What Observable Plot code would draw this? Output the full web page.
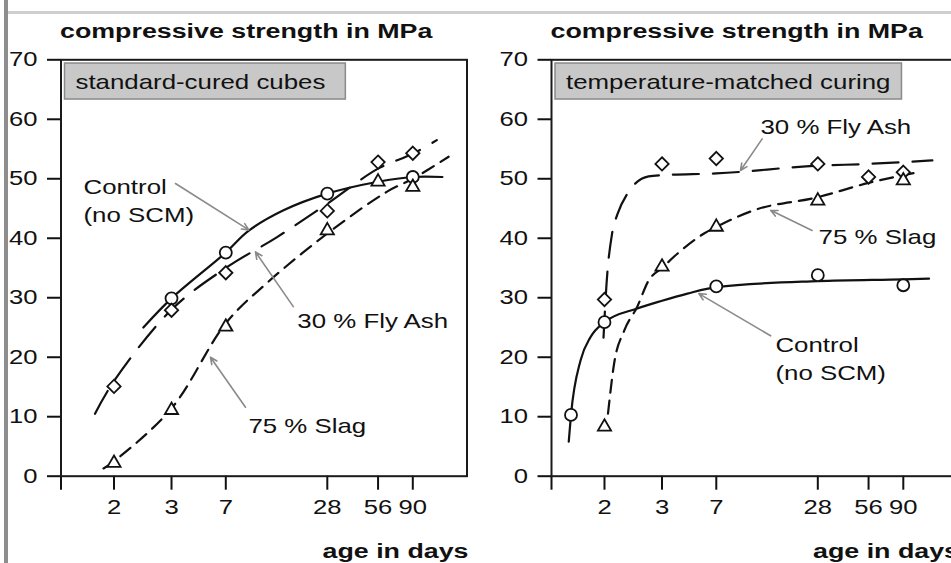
<!DOCTYPE html>
<html>
<head>
<meta charset="utf-8">
<script src="https://cdn.jsdelivr.net/npm/d3@7"></script>
<script src="https://cdn.jsdelivr.net/npm/@observablehq/plot@0.6"></script>
<style>
  html, body { margin: 0; padding: 0; background: #fff; width: 951px; height: 563px; overflow: hidden; }
  #wrap { position: relative; width: 951px; height: 563px; overflow: hidden; background: #fff; }
  .panel { position: absolute; top: 0; }
  #barLeft { position: absolute; left: 3.5px; top: 0; width: 4px; height: 563px; background: #8e8e8e; z-index: 5; }
  #barTop { position: absolute; left: 7.5px; top: 11px; right: 0; height: 3px; background: #cfcfcf; z-index: 5; }
  svg g[aria-label="x-axis tick"], svg g[aria-label="y-axis tick"] { stroke-width: 2px; }
  svg g[aria-label="x-axis"] line, svg g[aria-label="y-axis"] line { stroke-width: 2px; }
</style>
</head>
<body>
<div id="wrap">
  <div id="p1" class="panel" style="left:0px"></div>
  <div id="p2" class="panel" style="left:490px"></div>
  <div id="barLeft"></div>
  <div id="barTop"></div>
</div>
<script>
// ---------- axes / texts ----------
const tickAges = [2, 3, 7, 28, 56, 90];
const yTicks = [0, 10, 20, 30, 40, 50, 60, 70];
const yTitle = "compressive strength in MPa";
const xTitle = "age in days";
const panelLabels = ["standard-cured cubes", "temperature-matched curing"];
// the age axis of the original is hand-spaced: piecewise log breakpoints and their share of the frame width
const xBreaks = [0.67, 1, 2, 3, 7, 90, 189];
const xBreakFrac = [0, 0.048, 0.1305, 0.2722, 0.4059, 0.8665, 1];

// ---------- standard-cured cubes: measured points ----------
const stdControlAge = [3, 7, 28, 90];
const stdControlMPa = [29.9, 37.6, 47.5, 50.3];
const stdFlyAshAge = [2, 3, 7, 28, 56, 90];
const stdFlyAshMPa = [15.1, 27.9, 34.2, 44.6, 52.8, 54.3];
const stdSlagAge = [2, 3, 7, 28, 56, 90];
const stdSlagMPa = [2.2, 11.1, 25.1, 41.3, 49.5, 48.6];
// standard-cured cubes: fitted curves
const stdControlFitAge = [2.46, 3, 7, 9.5, 15.4, 28, 56, 90, 135];
const stdControlFitMPa = [25.0, 29.9, 37.6, 41.2, 44.7, 47.5, 49.5, 50.3, 50.3];
const stdFlyAshFitAge = [1.35, 2, 3, 7, 14.1, 28, 56, 90, 125];
const stdFlyAshFitMPa = [10.5, 16.0, 28.0, 35.0, 40.2, 45.8, 51.7, 54.2, 56.5];
const stdSlagFitAge = [1.61, 2, 3, 7, 12.3, 28, 63, 90, 147];
const stdSlagFitMPa = [1.3, 2.5, 11.4, 25.7, 32.5, 40.8, 47.8, 50.0, 53.7];
// standard-cured cubes: callouts
const stdNoteLabels = ["Control\n(no SCM)", "30 % Fly Ash", "75 % Slag"];
const stdNoteTextAge = [1.064, 18.6, 9.54];
const stdNoteTextMPa = [46.6, 26.4, 8.7];
const stdNoteFromAge = [3.19, 17.6, 9.16];
const stdNoteFromMPa = [49.2, 28.5, 11.6];
const stdNoteToAge = [9.58, 10.5, 5.51];
const stdNoteToMPa = [41.4, 37.7, 20.0];

// ---------- temperature-matched curing: measured points ----------
const tmcControlAge = [1, 2, 7, 28, 90];
const tmcControlMPa = [10.3, 25.9, 31.9, 33.8, 32.1];
const tmcFlyAshAge = [2, 3, 7, 28, 56, 90];
const tmcFlyAshMPa = [29.7, 52.5, 53.4, 52.5, 50.3, 51.1];
const tmcSlagAge = [2, 3, 7, 28, 90];
const tmcSlagMPa = [8.3, 35.2, 41.9, 46.3, 49.7];
// temperature-matched curing: fitted curves
const tmcControlFitAge = [0.955, 1, 1.22, 1.5, 2, 2.52, 3, 4.46, 7, 28, 90, 128];
const tmcControlFitMPa = [5.8, 10.3, 19.5, 23.4, 25.9, 28.2, 29.5, 30.7, 31.8, 32.8, 33.1, 33.2];
const tmcFlyAshFitAge = [1.96, 2.03, 2.11, 2.19, 2.35, 2.73, 3, 7, 28, 56, 90, 134];
const tmcFlyAshFitMPa = [23.3, 32.5, 40.8, 44.0, 47.5, 50.4, 50.6, 50.9, 52.2, 52.5, 52.8, 53.1];
const tmcSlagFitAge = [2.05, 2.14, 2.30, 2.52, 2.73, 3, 3.81, 5.78, 7, 11.7, 28, 56, 90, 111];
const tmcSlagFitMPa = [10.5, 18.9, 24.5, 28.5, 32.9, 35.0, 37.4, 40.8, 41.9, 44.7, 46.9, 49.3, 50.6, 51.1];
// temperature-matched curing: callouts
const tmcNoteLabels = ["30 % Fly Ash", "75 % Slag", "Control\n(no SCM)"];
const tmcNoteTextAge = [12.8, 28.3, 15.7];
const tmcNoteTextMPa = [59.0, 40.6, 20.0];
const tmcNoteFromAge = [13.1, 25.9, 14.7];
const tmcNoteFromMPa = [56.7, 41.3, 23.6];
const tmcNoteToAge = [9.74, 14.7, 5.33];
const tmcNoteToMPa = [51.4, 44.7, 30.7];

// ---------- helpers ----------
const zip = (a, b) => a.map((v, i) => ({age: v, mpa: b[i]}));
const notes = (labels, tx, ty, fx, fy, ax, ay) =>
  labels.map((label, i) => ({label, tx: tx[i], ty: ty[i], fx: fx[i], fy: fy[i], ax: ax[i], ay: ay[i]}));

const INK = "#111";
const FONT = "'Liberation Sans', Arial, Helvetica, sans-serif";

function panel(cfg) {
  const {ml, width, label, curve, control, controlFit, flyAsh, flyAshFit, slag, slagFit, annots} = cfg;
  const frameW = 406;
  const mr = width - ml - frameW;
  return Plot.plot({
    width, height: 563,
    marginLeft: ml, marginRight: mr, marginTop: 59.3, marginBottom: 87.3,
    style: {fontFamily: FONT, fontSize: "20px", color: INK, background: "transparent", maxWidth: "none", overflow: "visible"},
    x: {
      type: "log", domain: xBreaks, range: xBreakFrac.map(f => ml + f * frameW),
      ticks: [xBreaks[0], ...tickAges],
      tickFormat: () => "",
      tickSize: 14, tickPadding: 10, label: null
    },
    y: {domain: [0, 70], ticks: yTicks, tickSize: 13.5, tickPadding: 10, label: null},
    marks: [
      Plot.frame({stroke: "#1a1a1a", strokeWidth: 2}),
      Plot.text(tickAges, {x: d => d, text: d => String(d), frameAnchor: "bottom", dy: 24, lineAnchor: "top", fontSize: 20, fill: INK}),
      Plot.text([label], {text: d => d, frameAnchor: "top-left", dx: 14.5, dy: 22, textAnchor: "start", lineAnchor: "middle", fontSize: 21, fill: INK}),
      Plot.text([yTitle], {text: d => d, frameAnchor: "top-left", dx: -1, dy: -22.3, textAnchor: "start", lineAnchor: "bottom", fontSize: 20, fontWeight: "bold", fill: INK}),
      Plot.text([xTitle], {text: d => d, frameAnchor: "bottom-right", dx: 1.5, dy: 81.3, textAnchor: "end", lineAnchor: "bottom", fontSize: 20, fontWeight: "bold", fill: INK}),
      Plot.line(controlFit, {x: "age", y: "mpa", curve, stroke: INK, strokeWidth: 2.2}),
      Plot.line(flyAshFit, {x: "age", y: "mpa", curve, stroke: INK, strokeWidth: 2.2, strokeDasharray: "26,14"}),
      Plot.line(slagFit, {x: "age", y: "mpa", curve, stroke: INK, strokeWidth: 2.2, strokeDasharray: "13,8"}),
      Plot.arrow(annots, {x1: "fx", y1: "fy", x2: "ax", y2: "ay", stroke: "#8a8a8a", strokeWidth: 1.6, headLength: 7, headAngle: 50}),
      Plot.dot(control, {x: "age", y: "mpa", symbol: "circle", r: 6, fill: "white", stroke: INK, strokeWidth: 1.8}),
      Plot.dot(flyAsh, {x: "age", y: "mpa", symbol: "diamond2", r: 6, fill: "white", stroke: INK, strokeWidth: 1.8}),
      Plot.dot(slag, {x: "age", y: "mpa", symbol: "triangle2", r: 6.3, fill: "white", stroke: INK, strokeWidth: 1.8}),
      Plot.text(annots, {x: "tx", y: "ty", text: "label", textAnchor: "start", lineAnchor: "middle", fontSize: 21, lineHeight: 1.33, fill: INK})
    ]
  });
}

// the original lettering is a wide grotesque: widen glyphs to the measured widths
function stretchText(svg) {
  const jobs = [];
  for (const t of svg.querySelectorAll("text")) {
    const cs = getComputedStyle(t);
    const bold = +cs.fontWeight >= 600;
    const size = parseFloat(cs.fontSize);
    const f = bold ? 1.34 : size >= 20.5 ? 1.23 : 1.28;
    const spans = t.querySelectorAll("tspan");
    const targets = spans.length ? [...spans] : [t];
    for (const s of targets) jobs.push([s, s.getComputedTextLength() * f]);
  }
  for (const [s, L] of jobs) {
    if (L > 0) {
      s.setAttribute("textLength", L.toFixed(2));
      s.setAttribute("lengthAdjust", "spacingAndGlyphs");
    }
  }
}

function addBox(svg, label, padRight) {
  const t = [...svg.querySelectorAll("text")].find(e => e.textContent === label);
  if (!t) return;
  const bb = t.getBBox();
  const r = document.createElementNS("http://www.w3.org/2000/svg", "rect");
  const tr = t.getAttribute("transform");
  if (tr) r.setAttribute("transform", tr);
  const cy = bb.y + bb.height / 2;
  r.setAttribute("x", bb.x - 11);
  r.setAttribute("y", cy - 18);
  r.setAttribute("width", bb.width + 11 + padRight);
  r.setAttribute("height", 36);
  r.setAttribute("fill", "#c8c8c8");
  r.setAttribute("stroke", "#8a8a8a");
  r.setAttribute("stroke-width", 1.5);
  t.parentNode.insertBefore(r, t);
}

const cfgs = [
  {
    host: "p1", ml: 60.5, width: 490, label: panelLabels[0], padRight: 20, curve: "catmull-rom",
    control: zip(stdControlAge, stdControlMPa), controlFit: zip(stdControlFitAge, stdControlFitMPa),
    flyAsh: zip(stdFlyAshAge, stdFlyAshMPa), flyAshFit: zip(stdFlyAshFitAge, stdFlyAshFitMPa),
    slag: zip(stdSlagAge, stdSlagMPa), slagFit: zip(stdSlagFitAge, stdSlagFitMPa),
    annots: notes(stdNoteLabels, stdNoteTextAge, stdNoteTextMPa, stdNoteFromAge, stdNoteFromMPa, stdNoteToAge, stdNoteToMPa)
  },
  {
    host: "p2", ml: 61, width: 470, label: panelLabels[1], padRight: 11, curve: "monotone-x",
    control: zip(tmcControlAge, tmcControlMPa), controlFit: zip(tmcControlFitAge, tmcControlFitMPa),
    flyAsh: zip(tmcFlyAshAge, tmcFlyAshMPa), flyAshFit: zip(tmcFlyAshFitAge, tmcFlyAshFitMPa),
    slag: zip(tmcSlagAge, tmcSlagMPa), slagFit: zip(tmcSlagFitAge, tmcSlagFitMPa),
    annots: notes(tmcNoteLabels, tmcNoteTextAge, tmcNoteTextMPa, tmcNoteFromAge, tmcNoteFromMPa, tmcNoteToAge, tmcNoteToMPa)
  }
];

for (const cfg of cfgs) {
  const svg = panel(cfg);
  document.getElementById(cfg.host).appendChild(svg);
  stretchText(svg);
  addBox(svg, cfg.label, cfg.padRight);
}
</script>
</body>
</html>
